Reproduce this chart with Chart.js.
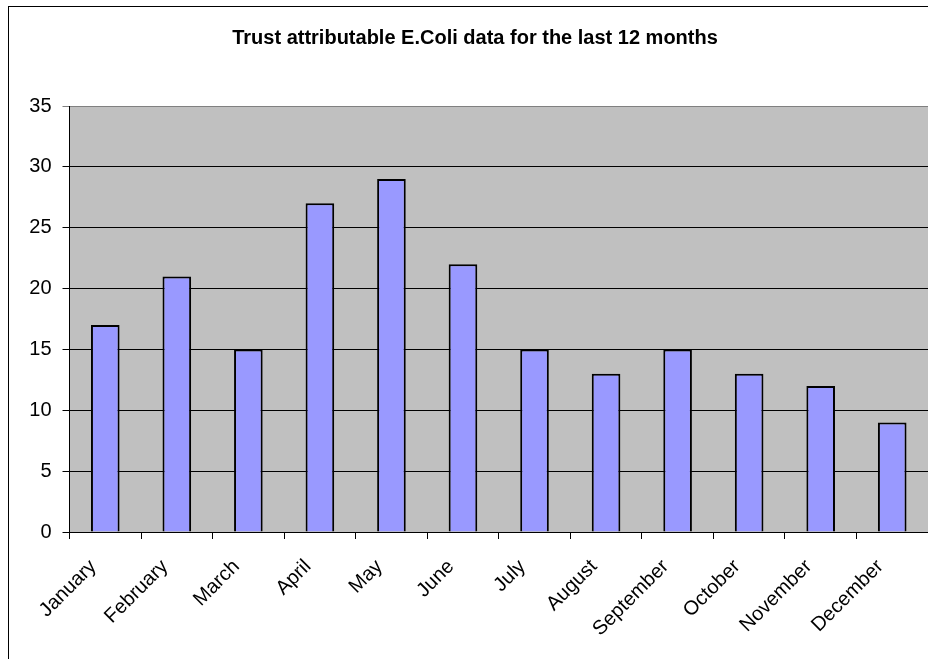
<!DOCTYPE html>
<html>
<head>
<meta charset="utf-8">
<title>Trust attributable E.Coli data</title>
<script src="https://cdn.jsdelivr.net/npm/chart.js@4.4.1/dist/chart.umd.min.js"></script>
<style>
  html, body { margin: 0; padding: 0; background: #ffffff; }
  #wrap { width: 928px; height: 659px; }
</style>
</head>
<body>
<div id="wrap"><canvas id="chart" width="928" height="659"></canvas></div>
<script>
// Monthly counts of trust-attributable E.Coli cases
const months = ['January', 'February', 'March', 'April', 'May', 'June',
                'July', 'August', 'September', 'October', 'November', 'December'];
const cases = [17, 21, 15, 27, 29, 22, 15, 13, 15, 13, 12, 9];
const yTicks = [0, 5, 10, 15, 20, 25, 30, 35];
const chartTitle = 'Trust attributable E.Coli data for the last 12 months';

const FONT = "'Liberation Sans', Arial, Helvetica, sans-serif";

// White page, outer chart frame and grey plot background
const framePlugin = {
  id: 'frame',
  beforeDraw(chart) {
    const { ctx, chartArea: a } = chart;
    ctx.save();
    ctx.fillStyle = '#ffffff';
    ctx.fillRect(0, 0, chart.width, chart.height);
    ctx.strokeStyle = '#000000';
    ctx.lineWidth = 1;
    ctx.strokeRect(8.5, 6.5, chart.width + 20, chart.height + 20);
    ctx.fillStyle = '#c0c0c0';
    ctx.fillRect(a.left, a.top, a.right - a.left, a.bottom - a.top);
    ctx.restore();
  }
};

new Chart(document.getElementById('chart'), {
  type: 'bar',
  data: {
    labels: months,
    datasets: [{
      data: cases,
      backgroundColor: '#9999ff',
      borderColor: '#000000',
      borderWidth: 2,
      barPercentage: 0.4,
      categoryPercentage: 1.0
    }]
  },
  options: {
    responsive: false,
    animation: false,
    devicePixelRatio: 1,
    layout: { padding: { left: 22, right: 0, top: 0, bottom: 24 } },
    plugins: {
      legend: { display: false },
      tooltip: { enabled: false },
      title: {
        display: true,
        text: chartTitle,
        color: '#000000',
        font: { family: FONT, size: 20, weight: 'bold', lineHeight: 1.2 },
        padding: { top: 26, bottom: 56 }
      }
    },
    scales: {
      x: {
        offset: true,
        grid: {
          offset: true,
          drawOnChartArea: false,
          drawTicks: true,
          tickLength: 7,
          color: '#000000'
        },
        border: { display: true, color: '#000000', width: 1 },
        ticks: {
          color: '#000000',
          font: { family: FONT, size: 20 },
          minRotation: 45,
          maxRotation: 45,
          autoSkip: false,
          padding: 16,
          labelOffset: -12
        },
        afterFit(scale) { scale.height = 103; }
      },
      y: {
        min: 0,
        max: 35,
        afterBuildTicks(scale) { scale.ticks = yTicks.map(v => ({ value: v })); },
        grid: {
          color: ctx => (ctx.tick && ctx.tick.value === 35 ? '#808080' : '#000000'),
          lineWidth: 1,
          drawTicks: true,
          tickLength: 7
        },
        border: { display: true, color: '#000000', width: 1 },
        ticks: {
          color: '#000000',
          font: { family: FONT, size: 20 },
          padding: 11
        },
        afterFit(scale) { scale.width = 47.5; }
      }
    }
  },
  plugins: [framePlugin]
});
</script>
</body>
</html>
